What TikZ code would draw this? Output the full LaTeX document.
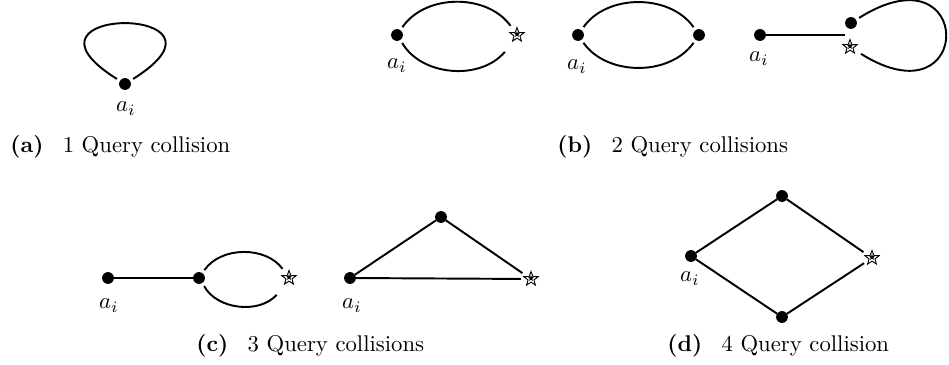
\documentclass[tikz,border=0pt]{standalone}
\usetikzlibrary{shapes.geometric}
\tikzset{
  vtx/.style={circle, fill=black, inner sep=0pt, minimum size=5.2pt, outer sep=0pt},
  hit/.style={star, star points=5, star point ratio=2.4, draw=black, fill=white, line width=0.4pt,
              inner sep=0pt, minimum size=6.6pt, outer sep=1.6pt,
              path picture={\node[star, star points=5, star point ratio=2.4, fill=black, inner sep=0pt,
                                  minimum size=2.8pt] at (path picture bounding box.center) {};}},
  lbl/.style={anchor=base},
  subcap/.style={anchor=base west, inner sep=0pt},
  edge/.style={line width=0.85pt},
  gap/.style={shorten <=1.6pt, shorten >=1.6pt},
}

\begin{document}
\begin{tikzpicture}[x=0.44pt, y=0.44pt]
    \useasboundingbox (0,0) rectangle (949,365);
    % (a) one collision
    \node[vtx] (a1) at (125,281) {};
    \node[lbl] (a1l) at (126,253) {$a_i$};
    \draw[edge, gap] (a1) .. controls +(148:150) and +(32:150) .. (a1);
    \node[subcap] (capa) at (10,212) {\textbf{(a)}\hspace{0.85em}1 Query collision};
    % (b) two collisions
    \node[vtx] (b1a) at (397,330) {};
    \node[hit] (b1s) at (517,330) {};
    \node[lbl] (b1l) at (397,296) {$a_i$};
    \draw[edge, gap] (b1a) to[bend left=55] (b1s);
    \draw[edge, gap] (b1a) to[bend right=55] (b1s);
    \node[vtx] (b2a) at (578,330) {};
    \node[vtx] (b2b) at (699,330) {};
    \node[lbl] (b2l) at (577,295) {$a_i$};
    \draw[edge, gap] (b2a) to[bend left=55] (b2b);
    \draw[edge, gap] (b2a) to[bend right=55] (b2b);
    \node[vtx] (b3a) at (760,330) {};
    \coordinate (b3j) at (845,330);
    \node[vtx] (b3b) at (851,342) {};
    \node[hit] (b3s) at (850,318) {};
    \node[lbl] (b3l) at (759,303) {$a_i$};
    \draw[edge] (b3a) -- (b3j);
    \draw[edge, gap] (b3b) .. controls (975,420) and (975,240) .. (b3s);
    \node[subcap] (capb) at (557,212) {\textbf{(b)}\hspace{0.85em}2 Query collisions};
    % (c) three collisions
    \node[vtx] (c1a) at (108,87) {};
    \node[vtx] (c1b) at (199,87) {};
    \node[hit] (c1s) at (289,87) {};
    \node[lbl] (c1l) at (109,56) {$a_i$};
    \draw[edge] (c1a) -- (c1b);
    \draw[edge, gap] (c1b) to[bend left=55] (c1s);
    \draw[edge, gap] (c1b) to[bend right=55] (c1s);
    \node[vtx] (c2a) at (350,87) {};
    \node[vtx] (c2t) at (441,148) {};
    \node[hit] (c2s) at (531,86) {};
    \node[lbl] (c2l) at (352,56) {$a_i$};
    \draw[edge] (c2a) -- (c2t) -- (c2s);
    \draw[edge] (c2a) -- (c2s);
    \node[subcap] (capc) at (196,13) {\textbf{(c)}\hspace{0.85em}3 Query collisions};
    % (d) four collisions
    \node[vtx] (d1a) at (691,109) {};
    \node[vtx] (d1t) at (782,169) {};
    \node[vtx] (d1b) at (782,48) {};
    \node[hit] (d1s) at (872,107) {};
    \node[lbl] (d1l) at (690,83) {$a_i$};
    \draw[edge] (d1a) -- (d1t) -- (d1s);
    \draw[edge] (d1a) -- (d1b) -- (d1s);
    \node[subcap] (capd) at (667,13) {\textbf{(d)}\hspace{0.85em}4 Query collision};
\end{tikzpicture}
\end{document}
